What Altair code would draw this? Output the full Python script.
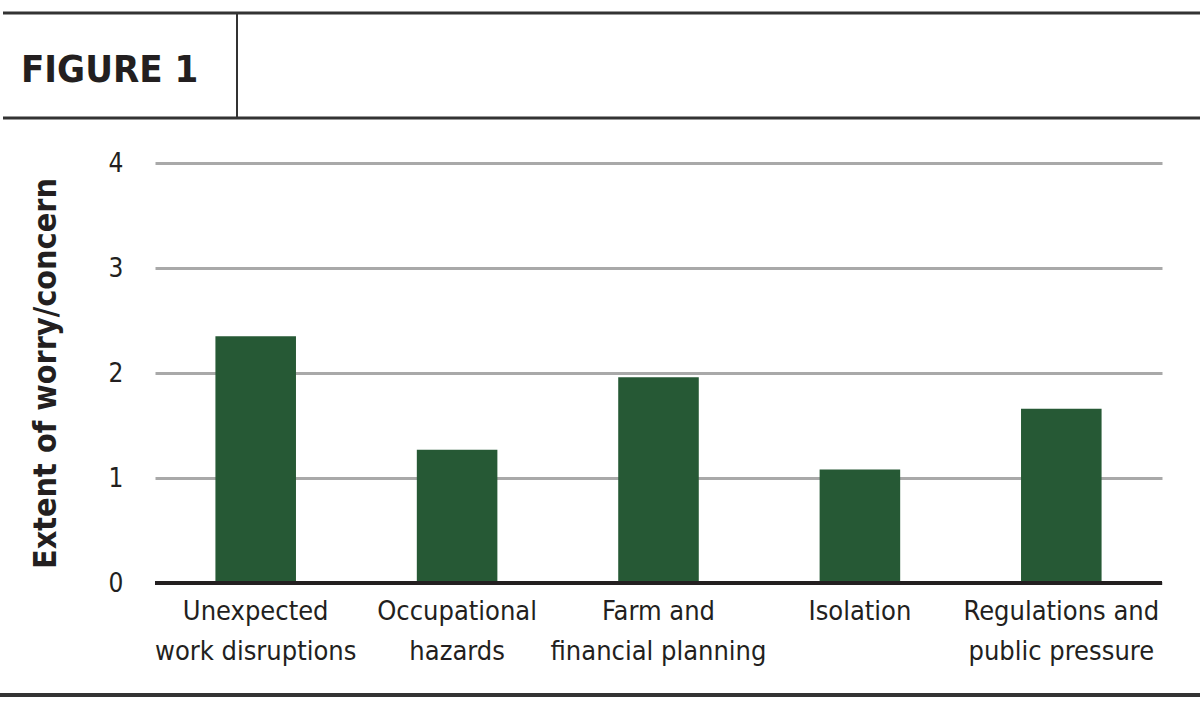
import altair as alt
import pandas as pd

# Survey results: mean extent of worry/concern per stressor
categories = [
    "Unexpected\nwork disruptions",
    "Occupational\nhazards",
    "Farm and\nfinancial planning",
    "Isolation",
    "Regulations and\npublic pressure",
]
worry = [2.35, 1.27, 1.96, 1.08, 1.66]
y_ticks = [0, 1, 2, 3, 4]

df = pd.DataFrame({"category": categories, "worry": worry})
one = pd.DataFrame({"k": [0]})

FONT = "Liberation Sans Narrow, DejaVu Sans Condensed, sans-serif"
INK = "#231f20"
GREEN = "#265935"

W, H = 1007, 420
LEFT, TOP = 155, 163

bars = alt.Chart(df).mark_bar(color=GREEN).encode(
    x=alt.X(
        "category:N",
        sort=categories,
        scale=alt.Scale(paddingInner=0.6, paddingOuter=0.3),
        axis=alt.Axis(
            title=None,
            labelExpr="split(datum.label, '\\n')",
            labelFont=FONT,
            labelFontSize=27,
            labelColor=INK,
            labelLineHeight=40,
            labelPadding=15,
            labelAngle=0,
            labelLimit=0,
            ticks=False,
            domain=False,
            grid=False,
        ),
    ),
    y=alt.Y(
        "worry:Q",
        scale=alt.Scale(domain=[0, 4]),
        axis=alt.Axis(
            values=y_ticks,
            format="d",
            title="Extent of worry/concern",
            titleFont=FONT,
            titleFontSize=32,
            titleFontWeight="bold",
            titleColor=INK,
            titleAngle=-90,
            titleAlign="center",
            titleBaseline="middle",
            titleX=45 - LEFT,
            titleY=H / 2,
            labelFont=FONT,
            labelFontSize=26,
            labelColor=INK,
            labelPadding=32,
            ticks=False,
            domain=False,
            grid=True,
            gridColor="#a9a9a9",
            gridWidth=3,
        ),
    ),
)

baseline = alt.Chart(pd.DataFrame({"y": [0]})).mark_rule(
    color=INK, strokeWidth=4
).encode(y=alt.Y("y:Q"))


def hline(y, x0, x1, width):
    return alt.Chart(one).mark_rule(color="#333333", strokeWidth=width).encode(
        x=alt.value(x0 - LEFT), x2=alt.value(x1 - LEFT), y=alt.value(y - TOP)
    )


frame_top = hline(13, 3, 1200, 3)
frame_mid = hline(118, 3, 1200, 3)
frame_bottom = hline(695, 0, 1200, 4)
divider = alt.Chart(one).mark_rule(color="#333333", strokeWidth=2).encode(
    x=alt.value(237 - LEFT), y=alt.value(13 - TOP), y2=alt.value(118 - TOP)
)

heading = alt.Chart(one).mark_text(
    text="FIGURE 1",
    align="left",
    baseline="alphabetic",
    font=FONT,
    fontSize=38,
    fontWeight="bold",
    color=INK,
).encode(x=alt.value(21 - LEFT), y=alt.value(82 - TOP))

chart = (
    alt.layer(bars, baseline, frame_top, frame_mid, frame_bottom, divider, heading)
    .properties(
        width=W,
        height=H,
        background="white",
        autosize=alt.AutoSizeParams(type="none"),
        padding={"left": LEFT, "top": TOP, "right": 1200 - LEFT - W, "bottom": 710 - TOP - H},
    )
    .configure_view(stroke=None, strokeWidth=0)
)

chart.save("out.html", embed_options={"renderer": "svg", "actions": False})
